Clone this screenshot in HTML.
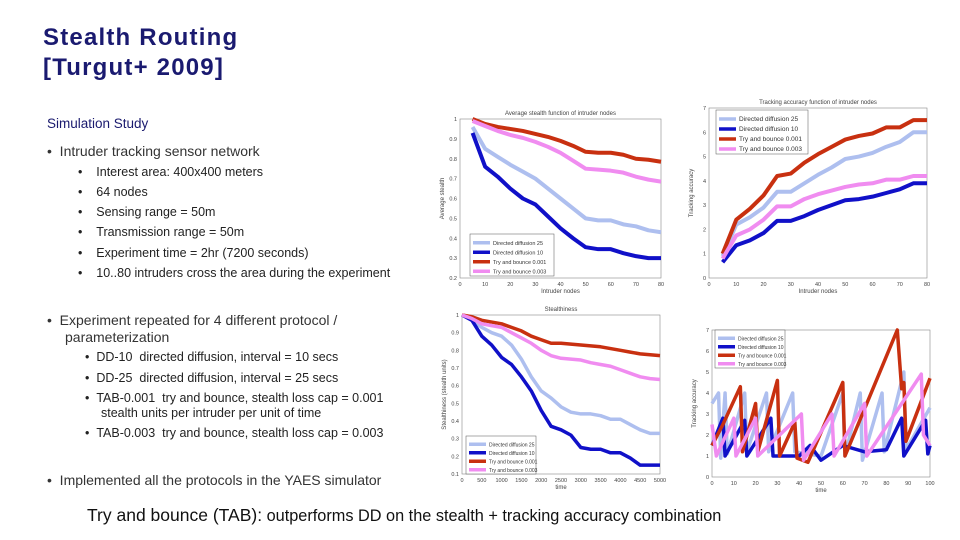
<!DOCTYPE html>
<html><head><meta charset="utf-8">
<style>
body{margin:0;width:960px;height:540px;background:#fff;overflow:hidden;position:relative;font-family:"Liberation Sans",sans-serif;color:#222}
.t{position:absolute;white-space:nowrap}
.title{left:43px;font-size:24px;font-weight:bold;color:#1a1a70;letter-spacing:1.2px}
.b1{font-size:14px;color:#333}
.b2{font-size:12.5px;color:#222}
svg{position:absolute;left:0;top:0}
</style></head><body>
<div class="t title" style="top:24px">Stealth Routing</div>
<div class="t title" style="top:54px">[Turgut+ 2009]</div>
<div class="t" style="left:47px;top:116px;font-size:13.5px;color:#1a1a6e">Simulation Study</div>
<div class="t b1" style="left:47px;top:143px">• &nbsp;Intruder tracking sensor network</div>
<div class="t b2" style="left:78px;top:165px">• &nbsp;&nbsp;&nbsp;Interest area: 400x400 meters</div>
<div class="t b2" style="left:78px;top:185px">• &nbsp;&nbsp;&nbsp;64 nodes</div>
<div class="t b2" style="left:78px;top:205px">• &nbsp;&nbsp;&nbsp;Sensing range = 50m</div>
<div class="t b2" style="left:78px;top:225px">• &nbsp;&nbsp;&nbsp;Transmission range = 50m</div>
<div class="t b2" style="left:78px;top:246px">• &nbsp;&nbsp;&nbsp;Experiment time = 2hr (7200 seconds)</div>
<div class="t b2" style="left:78px;top:266px">• &nbsp;&nbsp;&nbsp;10..80 intruders cross the area during the experiment</div>
<div class="t b1" style="left:47px;top:312px">• &nbsp;Experiment repeated for 4 different protocol /</div>
<div class="t b1" style="left:65px;top:329px">parameterization</div>
<div class="t b2" style="left:85px;top:350px">• &nbsp;DD-10 &nbsp;directed diffusion, interval = 10 secs</div>
<div class="t b2" style="left:85px;top:371px">• &nbsp;DD-25 &nbsp;directed diffusion, interval = 25 secs</div>
<div class="t b2" style="left:85px;top:391px">• &nbsp;TAB-0.001 &nbsp;try and bounce, stealth loss cap = 0.001</div>
<div class="t b2" style="left:101px;top:406px">stealth units per intruder per unit of time</div>
<div class="t b2" style="left:85px;top:426px">• &nbsp;TAB-0.003 &nbsp;try and bounce, stealth loss cap = 0.003</div>
<div class="t b1" style="left:47px;top:472px">• &nbsp;Implemented all the protocols in the YAES simulator</div>
<div class="t" style="left:87px;top:505px;font-size:16.3px;color:#111"><span style="font-size:17.5px">Try and bounce (TAB):</span> outperforms DD on the stealth + tracking accuracy combination</div>
<svg id="s" width="960" height="540"></svg>
<script>
const colors=['#aebfef','#1010c8','#c83010','#f08cf0'];
const names=['Directed diffusion 25','Directed diffusion 10','Try and bounce 0.001','Try and bounce 0.003'];
const c1x=[5,10,15,20,25,30,35,40,45,50,55,60,65,70,75,80];
const c1dd25=[.96,.85,.81,.77,.735,.70,.65,.60,.55,.50,.49,.49,.47,.46,.44,.43];
const c1dd10=[.93,.76,.71,.65,.60,.57,.51,.45,.40,.355,.345,.345,.325,.31,.30,.30];
const c1tab1=[1.0,.975,.96,.95,.94,.925,.91,.89,.865,.835,.83,.83,.82,.80,.795,.785];
const c1tab3=[.99,.965,.94,.92,.905,.885,.86,.83,.79,.75,.745,.74,.73,.71,.695,.685];
const c2dd25=[.9,2.2,2.5,2.9,3.55,3.55,3.9,4.25,4.55,4.9,5.0,5.15,5.4,5.6,6.0,6.0];
const c2dd10=[.65,1.35,1.55,1.85,2.35,2.35,2.55,2.8,3.0,3.2,3.25,3.35,3.5,3.65,3.9,3.9];
const c2tab1=[1.0,2.4,2.85,3.4,4.2,4.3,4.75,5.1,5.4,5.7,5.85,5.95,6.2,6.2,6.5,6.5];
const c2tab3=[.8,1.75,2.0,2.4,2.95,2.95,3.25,3.45,3.6,3.75,3.85,3.9,4.05,4.05,4.2,4.2];
const c3x=[0,250,500,750,1000,1250,1500,1750,2000,2250,2500,2750,3000,3250,3500,3750,4000,4250,4500,4750,5000];
const c3dd25=[1,.97,.93,.90,.88,.83,.75,.65,.57,.53,.48,.45,.44,.44,.43,.41,.41,.38,.35,.33,.33];
const c3dd10=[1,.97,.88,.83,.76,.72,.65,.57,.46,.37,.35,.32,.25,.24,.24,.22,.22,.19,.15,.15,.15];
const c3tab1=[1,.99,.97,.96,.95,.93,.91,.88,.86,.84,.84,.835,.83,.825,.82,.81,.80,.79,.78,.775,.77];
const c3tab3=[1,.98,.95,.94,.93,.90,.87,.84,.80,.77,.755,.75,.745,.73,.72,.71,.69,.67,.65,.64,.635];
const c4dd25x=[0,3,4,6,7,15,16,25,26,37,38,50,60,61,68,69,78,79,88,89,100];
const c4dd25=[3.5,4,0.9,4,1.1,4,1.2,4,1.2,4,1.2,1,4,1,4,0.8,4,1.2,5,1.3,3.3];
const c4dd10x=[0,5,6,15,16,27,28,40,45,50,60,70,80,87,88,98,99,100];
const c4dd10=[1.5,2.8,1,2.7,1,2.8,1,1,1.5,0.8,1.5,1.2,1.3,2.8,1.0,2.7,1.1,1.5];
const c4tab1x=[0,5,13,14,20,21,30,31,38,39,44,60,61,85,87,88,89,100];
const c4tab1=[1.5,2.5,4.3,1.2,3.5,1.2,4.6,1,2.6,0.9,0.7,4.5,1,7,4.2,4.5,1.7,4.7];
const c4tab3x=[0,2,10,11,20,21,41,42,55,56,70,71,96,97,100];
const c4tab3=[2.5,1,2.8,1,2.8,1,3.0,0.8,3,1,3.5,1,4.9,2.0,1.5];
const c1ticks=[0,10,20,30,40,50,60,70,80], c1yt=[0.2,0.3,0.4,0.5,0.6,0.7,0.8,0.9,1];
const c2yt=[0,1,2,3,4,5,6,7];
const c3ticks=[0,500,1000,1500,2000,2500,3000,3500,4000,4500,5000], c3yt=[0.1,0.2,0.3,0.4,0.5,0.6,0.7,0.8,0.9,1];
const c4ticks=[0,10,20,30,40,50,60,70,80,90,100];
const S=document.getElementById('s');const NS='http://www.w3.org/2000/svg';
function mk(t,a,p){const e=document.createElementNS(NS,t);for(const k in a)e.setAttribute(k,a[k]);(p||S).appendChild(e);return e;}
function chart(o){
 const g=mk('g',{});
 
 
 const X=v=>o.x0+(v-o.xmin)/(o.xmax-o.xmin)*(o.x1-o.x0);
 const Y=v=>o.y0-(v-o.ymin)/(o.ymax-o.ymin)*(o.y0-o.y1);
 const fr=mk('rect',{x:o.x0,y:o.y1,width:o.x1-o.x0,height:o.y0-o.y1,fill:'#fff',stroke:'#888','stroke-width':0.6},g);
 
 
 o.xt.forEach(v=>{const t=mk('text',{x:X(v),y:o.y0+8,'font-size':5.5,'text-anchor':'middle',fill:'#444'},g);t.textContent=v;
   });
 o.yt.forEach(v=>{const t=mk('text',{x:o.x0-3,y:Y(v)+2,'font-size':5.5,'text-anchor':'end',fill:'#444'},g);t.textContent=v;
   });
 if(o.title){const t=mk('text',{x:(o.x0+o.x1)/2,y:o.y1-4,'font-size':6,'text-anchor':'middle',fill:'#444'},g);t.textContent=o.title;
   }
 if(o.xl){const t=mk('text',{x:(o.x0+o.x1)/2,y:o.y0+15,'font-size':6,'text-anchor':'middle',fill:'#444'},g);t.textContent=o.xl;
   }
 if(o.yl){const cx=o.x0-16,cy=(o.y0+o.y1)/2;const t=mk('text',{x:cx,y:cy,'font-size':6,'text-anchor':'middle',fill:'#444',transform:`rotate(-90 ${cx} ${cy})`},g);t.textContent=o.yl;
   }
 o.series.forEach((s,i)=>{const p=mk('polyline',{points:s.x.map((xv,j)=>X(xv)+','+Y(s.y[j])).join(' '),fill:'none',stroke:colors[i],'stroke-width':o.sw,'stroke-linejoin':'round'},g);
   });
 const L=o.leg;const lb=mk('rect',{x:L.x,y:L.y,width:L.w,height:L.h*4+4,fill:'#fff',stroke:'#555','stroke-width':0.5},g);
 
 names.forEach((n,i)=>{const yy=L.y+4+L.h*i+L.h/2;mk('line',{x1:L.x+3,x2:L.x+20,y1:yy,y2:yy,stroke:colors[i],'stroke-width':3.5},g);
   const t=mk('text',{x:L.x+23,y:yy+2,'font-size':L.fs,fill:'#333'},g);t.textContent=n;
   });
}
chart({name:'chart-stealth-vs-intruders',x0:460,x1:661,y0:278,y1:119,xmin:0,xmax:80,ymin:0.2,ymax:1,xt:c1ticks,yt:c1yt,sw:4,
 title:'Average stealth function of intruder nodes',xl:'Intruder nodes',yl:'Average stealth',
 series:[{x:c1x,y:c1dd25},{x:c1x,y:c1dd10},{x:c1x,y:c1tab1},{x:c1x,y:c1tab3}],leg:{x:470,y:234,w:84,h:9.5,fs:5.5}});
chart({name:'chart-tracking-vs-intruders',x0:709,x1:927,y0:278,y1:108,xmin:0,xmax:80,ymin:0,ymax:7,xt:c1ticks,yt:c2yt,sw:4,
 title:'Tracking accuracy function of intruder nodes',xl:'Intruder nodes',yl:'Tracking accuracy',
 series:[{x:c1x,y:c2dd25},{x:c1x,y:c2dd10},{x:c1x,y:c2tab1},{x:c1x,y:c2tab3}],leg:{x:716,y:110,w:92,h:10,fs:6.5}});
chart({name:'chart-stealth-vs-time',x0:462,x1:660,y0:474,y1:315,xmin:0,xmax:5000,ymin:0.1,ymax:1,xt:c3ticks,yt:c3yt,sw:3.5,
 title:'Stealthiness',xl:'time',yl:'Stealthiness (stealth units)',
 series:[{x:c3x,y:c3dd25},{x:c3x,y:c3dd10},{x:c3x,y:c3tab1},{x:c3x,y:c3tab3}],leg:{x:466,y:436,w:70,h:8.5,fs:5}});
chart({name:'chart-tracking-vs-time',x0:712,x1:930,y0:477,y1:330,xmin:0,xmax:100,ymin:0,ymax:7,xt:c4ticks,yt:c2yt,sw:3.5,
 title:'',xl:'time',yl:'Tracking accuracy',
 series:[{x:c4dd25x,y:c4dd25},{x:c4dd10x,y:c4dd10},{x:c4tab1x,y:c4tab1},{x:c4tab3x,y:c4tab3}],leg:{x:715,y:330,w:70,h:8.5,fs:5}});
</script>
</body></html>
